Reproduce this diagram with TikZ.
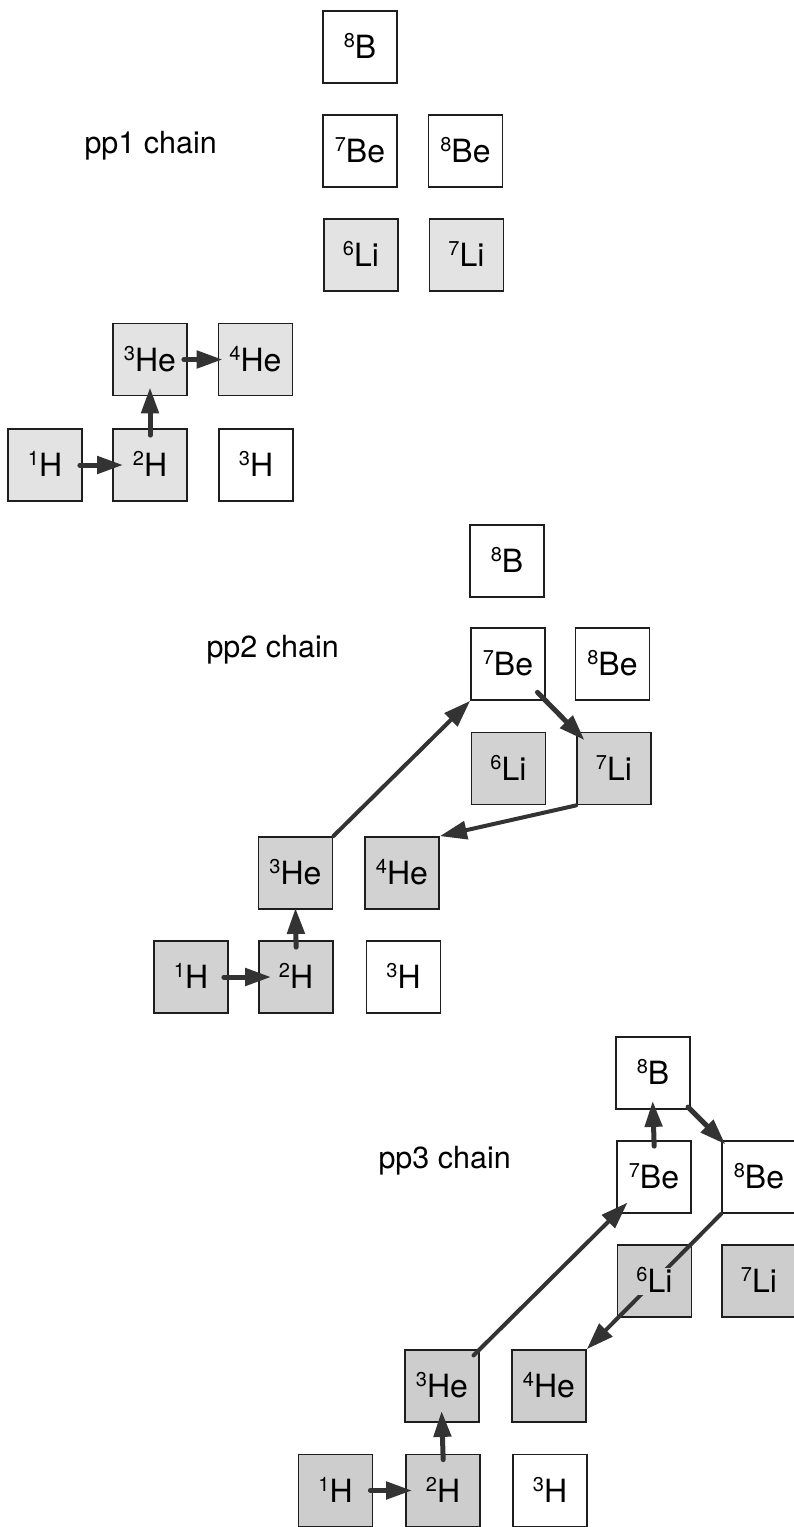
\documentclass[tikz,border=0pt]{standalone}
\usepackage{fontspec}
\setmainfont{TeX Gyre Heros}
\usetikzlibrary{arrows.meta}
\definecolor{arrc}{HTML}{333333}
\definecolor{edgec}{HTML}{1E1E1E}
\definecolor{shadeA}{HTML}{E3E3E3}
\definecolor{shadeB}{HTML}{D2D2D2}
\definecolor{shadeC}{HTML}{CDCDCD}
\newcommand{\iso}[2]{\raisebox{11pt}{\fontsize{20}{20}\selectfont #1}#2}
\begin{document}
\begin{tikzpicture}[x=1pt,y=-1pt,
  nuc/.style={draw=edgec, line width=1.8pt, minimum width=74pt, minimum height=72pt,
    inner sep=0pt, font=\fontsize{32}{32}\selectfont, text height=23pt, text depth=0pt},
  nucA/.style={nuc, fill=shadeA},
  nucB/.style={nuc, fill=shadeB},
  nucC/.style={nuc, fill=shadeC},
  arr/.style={draw=arrc, line width=5pt, line cap=round, -{Triangle[length=26pt,width=17pt]}},
  longarr/.style={arr, line width=4pt, -{Triangle[length=27pt,width=18pt]}},
  chainlbl/.style={anchor=base west, font=\fontsize{30.5}{30.5}\selectfont}]
\useasboundingbox (0,0) rectangle (794,1527);

% ---------------- pp1 chain ----------------
\node[chainlbl] (t1) at (81,153) {pp1 chain};
\node[nuc]  (a8b)  at (360,47)    {\iso{8}{B}};
\node[nuc]  (a7be) at (360,151)   {\iso{7}{Be}};
\node[nuc]  (a8be) at (465.5,151) {\iso{8}{Be}};
\node[nucA] (a6li) at (361,255)   {\iso{6}{Li}};
\node[nucA] (a7li) at (466.5,255) {\iso{7}{Li}};
\node[nucA] (a3he) at (150,359.5) {\iso{3}{He}};
\node[nucA] (a4he) at (255.5,359.5) {\iso{4}{He}};
\node[nucA] (a1h)  at (45,465)    {\iso{1}{H}};
\node[nucA] (a2h)  at (150,465)   {\iso{2}{H}};
\node[nuc]  (a3h)  at (256,465)   {\iso{3}{H}};

\draw[arr, shorten <=-3pt, shorten >=-11pt] (a1h.east) -- (a2h.west);
\draw[arr, shorten <=-7pt, shorten >=-9pt] (a2h.north) -- (a3he.south);
\draw[arr, shorten <=-4pt, shorten >=-5pt] (a3he.east) -- (a4he.west);

% ---------------- pp2 chain ----------------
\node[chainlbl] (t2) at (203,657) {pp2 chain};
\node[nuc]  (b8b)  at (507,561)   {\iso{8}{B}};
\node[nuc]  (b7be) at (508,664)   {\iso{7}{Be}};
\node[nuc]  (b8be) at (612.5,664) {\iso{8}{Be}};
\node[nucB] (b6li) at (508.5,768.5) {\iso{6}{Li}};
\node[nucB] (b7li) at (614,768.5) {\iso{7}{Li}};
\node[nucB] (b3he) at (295.5,873) {\iso{3}{He}};
\node[nucB] (b4he) at (402,873)   {\iso{4}{He}};
\node[nucB] (b1h)  at (191,977)   {\iso{1}{H}};
\node[nucB] (b2h)  at (296,977)   {\iso{2}{H}};
\node[nuc]  (b3h)  at (403.5,977) {\iso{3}{H}};

\draw[arr, shorten <=-5pt, shorten >=-13pt] (b1h.east) -- (b2h.west);
\draw[arr, shorten <=-7pt, shorten >=-2pt] (b2h.north) -- (b3he.south);
\draw[longarr] (b3he.north east) -- (b7be.south west);
\draw[arr, shorten <=-12pt, shorten >=-12pt] (b7be.south east) -- (b7li.north west);
\draw[longarr] (b7li.south west) -- (b4he.north east);

% ---------------- pp3 chain ----------------
\node[chainlbl] (t3) at (375,1168) {pp3 chain};
\node[nuc]  (c8b)  at (653,1073)  {\iso{8}{B}};
\node[nuc]  (c7be) at (654,1177)  {\iso{7}{Be}};
\node[nuc]  (c8be) at (759,1177)  {\iso{8}{Be}};
\node[nucC] (c6li) at (654.5,1281) {\iso{6}{Li}};
\node[nucC] (c7li) at (759,1281)  {\iso{7}{Li}};
\node[nucC] (c3he) at (442,1386)  {\iso{3}{He}};
\node[nucC] (c4he) at (549,1386)  {\iso{4}{He}};
\node[nucC] (c1h)  at (335.5,1490.5) {\iso{1}{H}};
\node[nucC] (c2h)  at (443,1490.5) {\iso{2}{H}};
\node[nuc]  (c3h)  at (550,1490.5) {\iso{3}{H}};

\draw[arr, shorten <=-3pt, shorten >=-7pt] (c1h.east) -- (c2h.west);
\draw[arr, shorten <=-6pt, shorten >=-12pt] (c2h.north) -- (c3he.south);
\draw[longarr, shorten <=-9pt, shorten >=-16pt] (c3he.north east) -- (c7be.south west);
\draw[arr, shorten <=-6pt, shorten >=-9pt] (c7be.north) -- (c8b.south);
\draw[arr, shorten <=-4pt, shorten >=-6pt] (c8b.south east) -- (c8be.north west);
\draw[longarr] (c8be.south west) -- (c4he.north east);
\node[fill=shadeC, inner sep=2pt, font=\fontsize{32}{32}\selectfont, text height=23pt, text depth=0pt]
  (c6litxt) at (c6li) {\iso{6}{Li}};
\end{tikzpicture}
\end{document}
